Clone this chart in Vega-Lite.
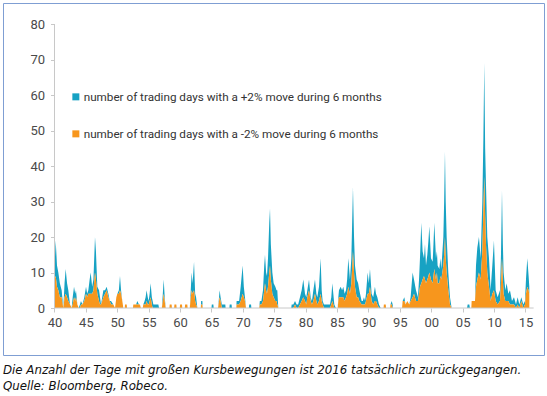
{
  "$schema": "https://vega.github.io/schema/vega-lite/v6.json",
  "width": 541,
  "height": 352,
  "padding": {"left": 3, "top": 3, "right": 2, "bottom": 4},
  "background": "white",
  "config": {"view": {"stroke": "#7f9ed3", "strokeWidth": 1}},
  "title": {
    "text": ["Die Anzahl der Tage mit großen Kursbewegungen ist 2016 tatsächlich zurückgegangen.", "Quelle: Bloomberg, Robeco."],
    "orient": "bottom", "anchor": "start", "frame": "group",
    "font": "DejaVu Sans", "fontStyle": "italic", "fontWeight": "normal", "fontSize": 11.8,
    "color": "#111111", "lineHeight": 15.5, "offset": 10
  },
  "datasets": {
    "series": [
      {"t":1940.00,"up":3,"down":8},{"t":1940.19,"up":10,"down":9},{"t":1940.40,"up":6,"down":6},{"t":1940.61,"up":5,"down":5},{"t":1940.85,"up":4,"down":3},{"t":1941.14,"up":2,"down":3},{"t":1941.30,"up":1,"down":1},{"t":1941.41,"up":0,"down":0},{"t":1941.60,"up":4,"down":3},{"t":1941.78,"up":7,"down":4},{"t":1942.00,"up":4,"down":3},{"t":1942.20,"up":3,"down":2},{"t":1942.47,"up":0,"down":1},{"t":1942.73,"up":0,"down":0},{"t":1942.90,"up":2,"down":1},{"t":1943.11,"up":3,"down":3},{"t":1943.30,"up":2,"down":2},{"t":1943.42,"up":2,"down":3},{"t":1943.64,"up":0,"down":1},{"t":1943.85,"up":0,"down":0},{"t":1944.05,"up":1,"down":0},{"t":1944.22,"up":1,"down":1},{"t":1944.45,"up":0,"down":1},{"t":1944.75,"up":1,"down":2},{"t":1945.02,"up":2,"down":4},{"t":1945.20,"up":1,"down":3},{"t":1945.39,"up":1,"down":4},{"t":1945.60,"up":4,"down":4},{"t":1945.76,"up":6,"down":4},{"t":1946.00,"up":2,"down":4},{"t":1946.20,"up":3,"down":5},{"t":1946.45,"up":10,"down":10},{"t":1946.60,"up":8,"down":8},{"t":1946.82,"up":2,"down":4},{"t":1947.09,"up":3,"down":2},{"t":1947.25,"up":2,"down":1},{"t":1947.41,"up":0,"down":1},{"t":1947.60,"up":1,"down":2},{"t":1947.78,"up":2,"down":3},{"t":1948.05,"up":1,"down":4},{"t":1948.31,"up":1,"down":5},{"t":1948.58,"up":1,"down":3},{"t":1948.80,"up":0,"down":2},{"t":1949.00,"up":1,"down":1},{"t":1949.37,"up":0,"down":1},{"t":1949.64,"up":0,"down":0},{"t":1949.85,"up":0,"down":3},{"t":1950.01,"up":0,"down":4},{"t":1950.25,"up":1,"down":4},{"t":1950.43,"up":4,"down":5},{"t":1950.60,"up":1,"down":4},{"t":1950.80,"up":0,"down":2},{"t":1950.96,"up":0,"down":0},
      {"t":1951.18,"up":0,"down":0},{"t":1951.23,"up":0,"down":1},{"t":1951.50,"up":0,"down":1},{"t":1951.55,"up":0,"down":0},{"t":1952.50,"up":0,"down":0},{"t":1952.55,"up":0,"down":1},{"t":1953.00,"up":0,"down":1},{"t":1953.19,"up":1,"down":1},{"t":1953.45,"up":0,"down":1},{"t":1953.61,"up":0,"down":1},{"t":1953.75,"up":0,"down":0},{"t":1954.05,"up":0,"down":0},{"t":1954.14,"up":0,"down":1},{"t":1954.35,"up":1,"down":1},{"t":1954.51,"up":2,"down":1},{"t":1954.67,"up":3,"down":2},{"t":1954.85,"up":2,"down":1},{"t":1955.00,"up":1,"down":1},{"t":1955.15,"up":2,"down":2},{"t":1955.31,"up":4,"down":3},{"t":1955.50,"up":2,"down":1},{"t":1955.63,"up":2,"down":0},{"t":1955.74,"up":1,"down":0},{"t":1956.54,"up":1,"down":0},{"t":1956.65,"up":0,"down":0},{"t":1957.10,"up":0,"down":0},{"t":1957.25,"up":2,"down":2},{"t":1957.39,"up":4,"down":4},{"t":1957.55,"up":1,"down":2},{"t":1957.71,"up":0,"down":0},
      {"t":1958.30,"up":0,"down":0},{"t":1958.35,"up":0,"down":1},{"t":1958.65,"up":0,"down":1},{"t":1958.70,"up":0,"down":0},{"t":1959.05,"up":0,"down":0},{"t":1959.10,"up":0,"down":1},{"t":1959.40,"up":0,"down":1},{"t":1959.45,"up":0,"down":0},{"t":1959.95,"up":0,"down":0},{"t":1960.00,"up":0,"down":1},{"t":1960.30,"up":0,"down":1},{"t":1960.35,"up":0,"down":0},{"t":1960.75,"up":0,"down":0},{"t":1960.80,"up":0,"down":1},{"t":1961.15,"up":0,"down":1},{"t":1961.20,"up":0,"down":0},{"t":1961.55,"up":0,"down":0},{"t":1961.70,"up":2,"down":3},{"t":1961.84,"up":5,"down":5},{"t":1962.00,"up":3,"down":4},{"t":1962.22,"up":8,"down":5},{"t":1962.40,"up":2,"down":2},{"t":1962.55,"up":2,"down":1},{"t":1962.75,"up":0,"down":0},{"t":1963.30,"up":0,"down":0},{"t":1963.35,"up":1,"down":1},{"t":1963.55,"up":1,"down":1},{"t":1963.60,"up":0,"down":0},{"t":1965.00,"up":0,"down":0},{"t":1965.05,"up":1,"down":0},{"t":1965.30,"up":1,"down":0},{"t":1965.35,"up":0,"down":0},{"t":1966.05,"up":0,"down":0},{"t":1966.20,"up":1,"down":2},{"t":1966.30,"up":2,"down":3},{"t":1966.45,"up":1,"down":2},{"t":1966.65,"up":1,"down":0},{"t":1967.20,"up":1,"down":0},{"t":1967.25,"up":0,"down":0},{"t":1967.85,"up":0,"down":0},{"t":1967.90,"up":1,"down":0},{"t":1968.20,"up":1,"down":0},{"t":1968.25,"up":0,"down":0},{"t":1968.95,"up":0,"down":0},{"t":1969.00,"up":1,"down":1},{"t":1969.40,"up":1,"down":1},{"t":1969.65,"up":4,"down":2},{"t":1969.96,"up":8,"down":4},{"t":1970.15,"up":3,"down":3},{"t":1970.33,"up":1,"down":2},{"t":1970.50,"up":0,"down":0},{"t":1970.95,"up":0,"down":0},{"t":1971.00,"up":1,"down":0},{"t":1971.30,"up":1,"down":0},{"t":1971.35,"up":0,"down":0},
      {"t":1972.60,"up":0,"down":0},{"t":1972.70,"up":1,"down":1},{"t":1972.95,"up":1,"down":1},{"t":1973.20,"up":3,"down":2},{"t":1973.40,"up":7,"down":5},{"t":1973.52,"up":8,"down":7},{"t":1973.70,"up":5,"down":5},{"t":1973.84,"up":5,"down":4},{"t":1974.00,"up":8,"down":6},{"t":1974.20,"up":14,"down":10},{"t":1974.32,"up":16,"down":12},{"t":1974.45,"up":10,"down":8},{"t":1974.69,"up":6,"down":4},{"t":1974.90,"up":4,"down":3},{"t":1975.17,"up":4,"down":2},{"t":1975.35,"up":3,"down":2},{"t":1975.48,"up":4,"down":1},{"t":1975.64,"up":0,"down":0},
      {"t":1977.70,"up":0,"down":0},{"t":1977.77,"up":1,"down":0},{"t":1978.03,"up":1,"down":0},{"t":1978.30,"up":1,"down":1},{"t":1978.56,"up":1,"down":0},{"t":1978.80,"up":1,"down":0},{"t":1979.09,"up":2,"down":1},{"t":1979.36,"up":3,"down":2},{"t":1979.62,"up":5,"down":3},{"t":1979.89,"up":2,"down":2},{"t":1980.10,"up":2,"down":1},{"t":1980.26,"up":2,"down":3},{"t":1980.53,"up":3,"down":5},{"t":1980.79,"up":1,"down":2},{"t":1981.00,"up":1,"down":1},{"t":1981.22,"up":3,"down":2},{"t":1981.48,"up":4,"down":4},{"t":1981.70,"up":2,"down":2},{"t":1981.85,"up":2,"down":1},{"t":1982.12,"up":4,"down":2},{"t":1982.38,"up":10,"down":4},{"t":1982.55,"up":3,"down":2},{"t":1982.70,"up":1,"down":1},{"t":1982.91,"up":1,"down":0},{"t":1983.87,"up":1,"down":0},{"t":1984.08,"up":2,"down":1},{"t":1984.24,"up":5,"down":2},{"t":1984.40,"up":3,"down":1},{"t":1984.56,"up":1,"down":0},{"t":1984.80,"up":0,"down":0},{"t":1985.10,"up":0,"down":0},{"t":1985.20,"up":1,"down":2},{"t":1985.30,"up":2,"down":3},{"t":1985.57,"up":3,"down":3},{"t":1985.80,"up":2,"down":3},{"t":1985.99,"up":3,"down":3},{"t":1986.20,"up":2,"down":2},{"t":1986.42,"up":2,"down":3},{"t":1986.60,"up":4,"down":4},{"t":1986.79,"up":8,"down":6},{"t":1987.05,"up":4,"down":4},{"t":1987.27,"up":7,"down":7},{"t":1987.53,"up":18,"down":16},{"t":1987.70,"up":10,"down":10},{"t":1987.85,"up":6,"down":6},{"t":1988.12,"up":5,"down":3},{"t":1988.35,"up":4,"down":3},{"t":1988.54,"up":3,"down":2},{"t":1988.91,"up":1,"down":1},{"t":1989.10,"up":1,"down":1},{"t":1989.28,"up":2,"down":1},{"t":1989.45,"up":1,"down":1},{"t":1989.60,"up":2,"down":2},{"t":1989.87,"up":6,"down":4},{"t":1990.05,"up":3,"down":4},{"t":1990.24,"up":5,"down":6},{"t":1990.50,"up":2,"down":2},{"t":1990.75,"up":2,"down":1},{"t":1991.03,"up":4,"down":2},{"t":1991.20,"up":2,"down":2},{"t":1991.41,"up":2,"down":1},{"t":1991.67,"up":1,"down":0},{"t":1991.94,"up":0,"down":0},
      {"t":1992.40,"up":0,"down":0},{"t":1992.45,"up":0,"down":1},{"t":1992.75,"up":0,"down":1},{"t":1992.80,"up":0,"down":0},{"t":1993.45,"up":0,"down":0},{"t":1993.50,"up":0,"down":1},{"t":1993.70,"up":1,"down":1},{"t":1993.85,"up":1,"down":0},{"t":1993.90,"up":0,"down":0},{"t":1995.35,"up":0,"down":0},{"t":1995.44,"up":0,"down":2},{"t":1995.71,"up":1,"down":2},{"t":1995.90,"up":0,"down":1},{"t":1996.18,"up":0,"down":2},{"t":1996.50,"up":0,"down":1},{"t":1996.71,"up":1,"down":2},{"t":1997.03,"up":7,"down":3},{"t":1997.25,"up":4,"down":4},{"t":1997.56,"up":3,"down":2},{"t":1997.88,"up":1,"down":2},{"t":1998.05,"up":4,"down":4},{"t":1998.20,"up":8,"down":6},{"t":1998.41,"up":17,"down":7},{"t":1998.62,"up":8,"down":8},{"t":1998.84,"up":5,"down":9},{"t":1999.00,"up":10,"down":8},{"t":1999.16,"up":5,"down":7},{"t":1999.37,"up":7,"down":8},{"t":1999.55,"up":10,"down":9},{"t":1999.69,"up":13,"down":10},{"t":1999.95,"up":6,"down":8},{"t":2000.22,"up":6,"down":7},{"t":2000.35,"up":9,"down":9},{"t":2000.48,"up":13,"down":11},{"t":2000.75,"up":6,"down":8},{"t":2000.90,"up":6,"down":10},{"t":2001.01,"up":5,"down":7},{"t":2001.28,"up":4,"down":7},{"t":2001.45,"up":5,"down":9},{"t":2001.60,"up":3,"down":8},{"t":2001.92,"up":8,"down":12},{"t":2002.05,"up":15,"down":15},{"t":2002.18,"up":24,"down":20},{"t":2002.30,"up":16,"down":14},{"t":2002.45,"up":10,"down":10},{"t":2002.71,"up":5,"down":5},{"t":2002.98,"up":2,"down":1},{"t":2003.24,"up":0,"down":0},
      {"t":2005.70,"up":0,"down":0},{"t":2005.79,"up":1,"down":0},{"t":2006.06,"up":1,"down":0},{"t":2006.15,"up":0,"down":0},{"t":2006.38,"up":0,"down":0},{"t":2006.43,"up":0,"down":2},{"t":2006.96,"up":0,"down":2},{"t":2007.12,"up":6,"down":6},{"t":2007.33,"up":9,"down":8},{"t":2007.59,"up":10,"down":10},{"t":2007.86,"up":6,"down":8},{"t":2008.13,"up":14,"down":16},{"t":2008.30,"up":20,"down":28},{"t":2008.44,"up":32,"down":37},{"t":2008.58,"up":19,"down":26},{"t":2008.71,"up":17,"down":18},{"t":2008.92,"up":10,"down":10},{"t":2009.19,"up":8,"down":6},{"t":2009.45,"up":3,"down":2},{"t":2009.72,"up":8,"down":4},{"t":2009.98,"up":14,"down":5},{"t":2010.25,"up":3,"down":2},{"t":2010.57,"up":2,"down":1},{"t":2010.94,"up":3,"down":2},{"t":2011.10,"up":8,"down":7},{"t":2011.26,"up":19,"down":14},{"t":2011.40,"up":10,"down":8},{"t":2011.52,"up":6,"down":4},{"t":2011.79,"up":3,"down":2},{"t":2012.00,"up":5,"down":2},{"t":2012.27,"up":2,"down":2},{"t":2012.53,"up":4,"down":1},{"t":2012.85,"up":1,"down":1},{"t":2013.17,"up":2,"down":1},{"t":2013.49,"up":1,"down":0},{"t":2013.75,"up":2,"down":1},{"t":2014.02,"up":1,"down":0},{"t":2014.34,"up":1,"down":2},{"t":2014.65,"up":1,"down":0},{"t":2014.92,"up":1,"down":1},{"t":2015.08,"up":4,"down":4},{"t":2015.29,"up":8,"down":6},{"t":2015.50,"up":4,"down":5},{"t":2015.61,"up":2,"down":4}
    ],
    "yaxis": [{"t": 1940, "n": 0, "hi": 80}],
    "xaxis": [{"t": 1940, "t1": 2016.3, "n": 0}]
  },
  "layer": [
    {
      "data": {"name": "series"},
      "transform": [{"fold": ["up", "down"], "as": ["series", "n"]}],
      "mark": {"type": "area", "interpolate": "linear"},
      "encoding": {
        "x": {
          "field": "t", "type": "quantitative",
          "scale": {"domain": [1931.8, 2017.95], "nice": false, "zero": false},
          "axis": {
            "title": null, "values": [1940,1945,1950,1955,1960,1965,1970,1975,1980,1985,1990,1995,2000,2005,2010,2015],
            "labelExpr": "pad(toString(datum.value % 100), 2, '0', 'left')",
            "labelOverlap": false, "labelBound": false, "labelFlush": false,
            "offset": -47, "domain": false, "grid": false,
            "ticks": true, "tickSize": 4, "tickColor": "#c8c8c8",
            "labelPadding": 4, "labelFont": "Roboto", "labelFontSize": 13, "labelColor": "#4a4a4a"
          }
        },
        "y": {
          "field": "n", "type": "quantitative", "stack": "zero",
          "scale": {"domain": [-13.24, 85.92], "nice": false, "zero": false},
          "axis": {
            "title": null, "values": [0,10,20,30,40,50,60,70,80],
            "labelOverlap": false,
            "offset": -51.5, "domain": false, "grid": false,
            "ticks": true, "tickSize": 4, "tickColor": "#c8c8c8",
            "labelPadding": 6, "labelFont": "Roboto", "labelFontSize": 13, "labelColor": "#4a4a4a"
          }
        },
        "color": {
          "field": "series", "type": "nominal",
          "scale": {"domain": ["up", "down"], "range": ["#17a2c3", "#f7961d"]},
          "legend": {
            "title": null, "orient": "none", "legendX": 67, "legendY": 88, "direction": "vertical",
            "symbolType": "square", "symbolSize": 49, "symbolStrokeWidth": 0, "symbolOpacity": 1,
            "labelFont": "Roboto", "labelFontSize": 11.7, "labelColor": "#333333", "labelOffset": 2,
            "labelLimit": 500, "rowPadding": 24,
            "labelExpr": "datum.label == 'up' ? 'number of trading days with a +2% move during 6 months' : 'number of trading days with a -2% move during 6 months'"
          }
        },
        "order": {"field": "series", "sort": "ascending"}
      }
    },
    {
      "data": {"name": "yaxis"},
      "mark": {"type": "rule", "color": "#c8c8c8", "strokeWidth": 1},
      "encoding": {
        "x": {
          "field": "t", "type": "quantitative",
          "axis": {
            "title": null, "values": [1940,1945,1950,1955,1960,1965,1970,1975,1980,1985,1990,1995,2000,2005,2010,2015],
            "labelExpr": "pad(toString(datum.value % 100), 2, '0', 'left')",
            "labelOverlap": false, "labelBound": false, "labelFlush": false,
            "offset": -47, "domain": false, "grid": false,
            "ticks": true, "tickSize": 4, "tickColor": "#c8c8c8",
            "labelPadding": 4, "labelFont": "Roboto", "labelFontSize": 13, "labelColor": "#4a4a4a"
          }
        },
        "y": {
          "field": "n", "type": "quantitative",
          "axis": {
            "title": null, "values": [0,10,20,30,40,50,60,70,80],
            "labelOverlap": false,
            "offset": -51.5, "domain": false, "grid": false,
            "ticks": true, "tickSize": 4, "tickColor": "#c8c8c8",
            "labelPadding": 6, "labelFont": "Roboto", "labelFontSize": 13, "labelColor": "#4a4a4a"
          }
        },
        "y2": {"field": "hi"}
      }
    },
    {
      "data": {"name": "xaxis"},
      "mark": {"type": "rule", "color": "#c8c8c8", "strokeWidth": 1},
      "encoding": {
        "x": {
          "field": "t", "type": "quantitative",
          "axis": {
            "title": null, "values": [1940,1945,1950,1955,1960,1965,1970,1975,1980,1985,1990,1995,2000,2005,2010,2015],
            "labelExpr": "pad(toString(datum.value % 100), 2, '0', 'left')",
            "labelOverlap": false, "labelBound": false, "labelFlush": false,
            "offset": -47, "domain": false, "grid": false,
            "ticks": true, "tickSize": 4, "tickColor": "#c8c8c8",
            "labelPadding": 4, "labelFont": "Roboto", "labelFontSize": 13, "labelColor": "#4a4a4a"
          }
        },
        "x2": {"field": "t1"},
        "y": {
          "field": "n", "type": "quantitative",
          "axis": {
            "title": null, "values": [0,10,20,30,40,50,60,70,80],
            "labelOverlap": false,
            "offset": -51.5, "domain": false, "grid": false,
            "ticks": true, "tickSize": 4, "tickColor": "#c8c8c8",
            "labelPadding": 6, "labelFont": "Roboto", "labelFontSize": 13, "labelColor": "#4a4a4a"
          }
        }
      }
    }
  ]
}
